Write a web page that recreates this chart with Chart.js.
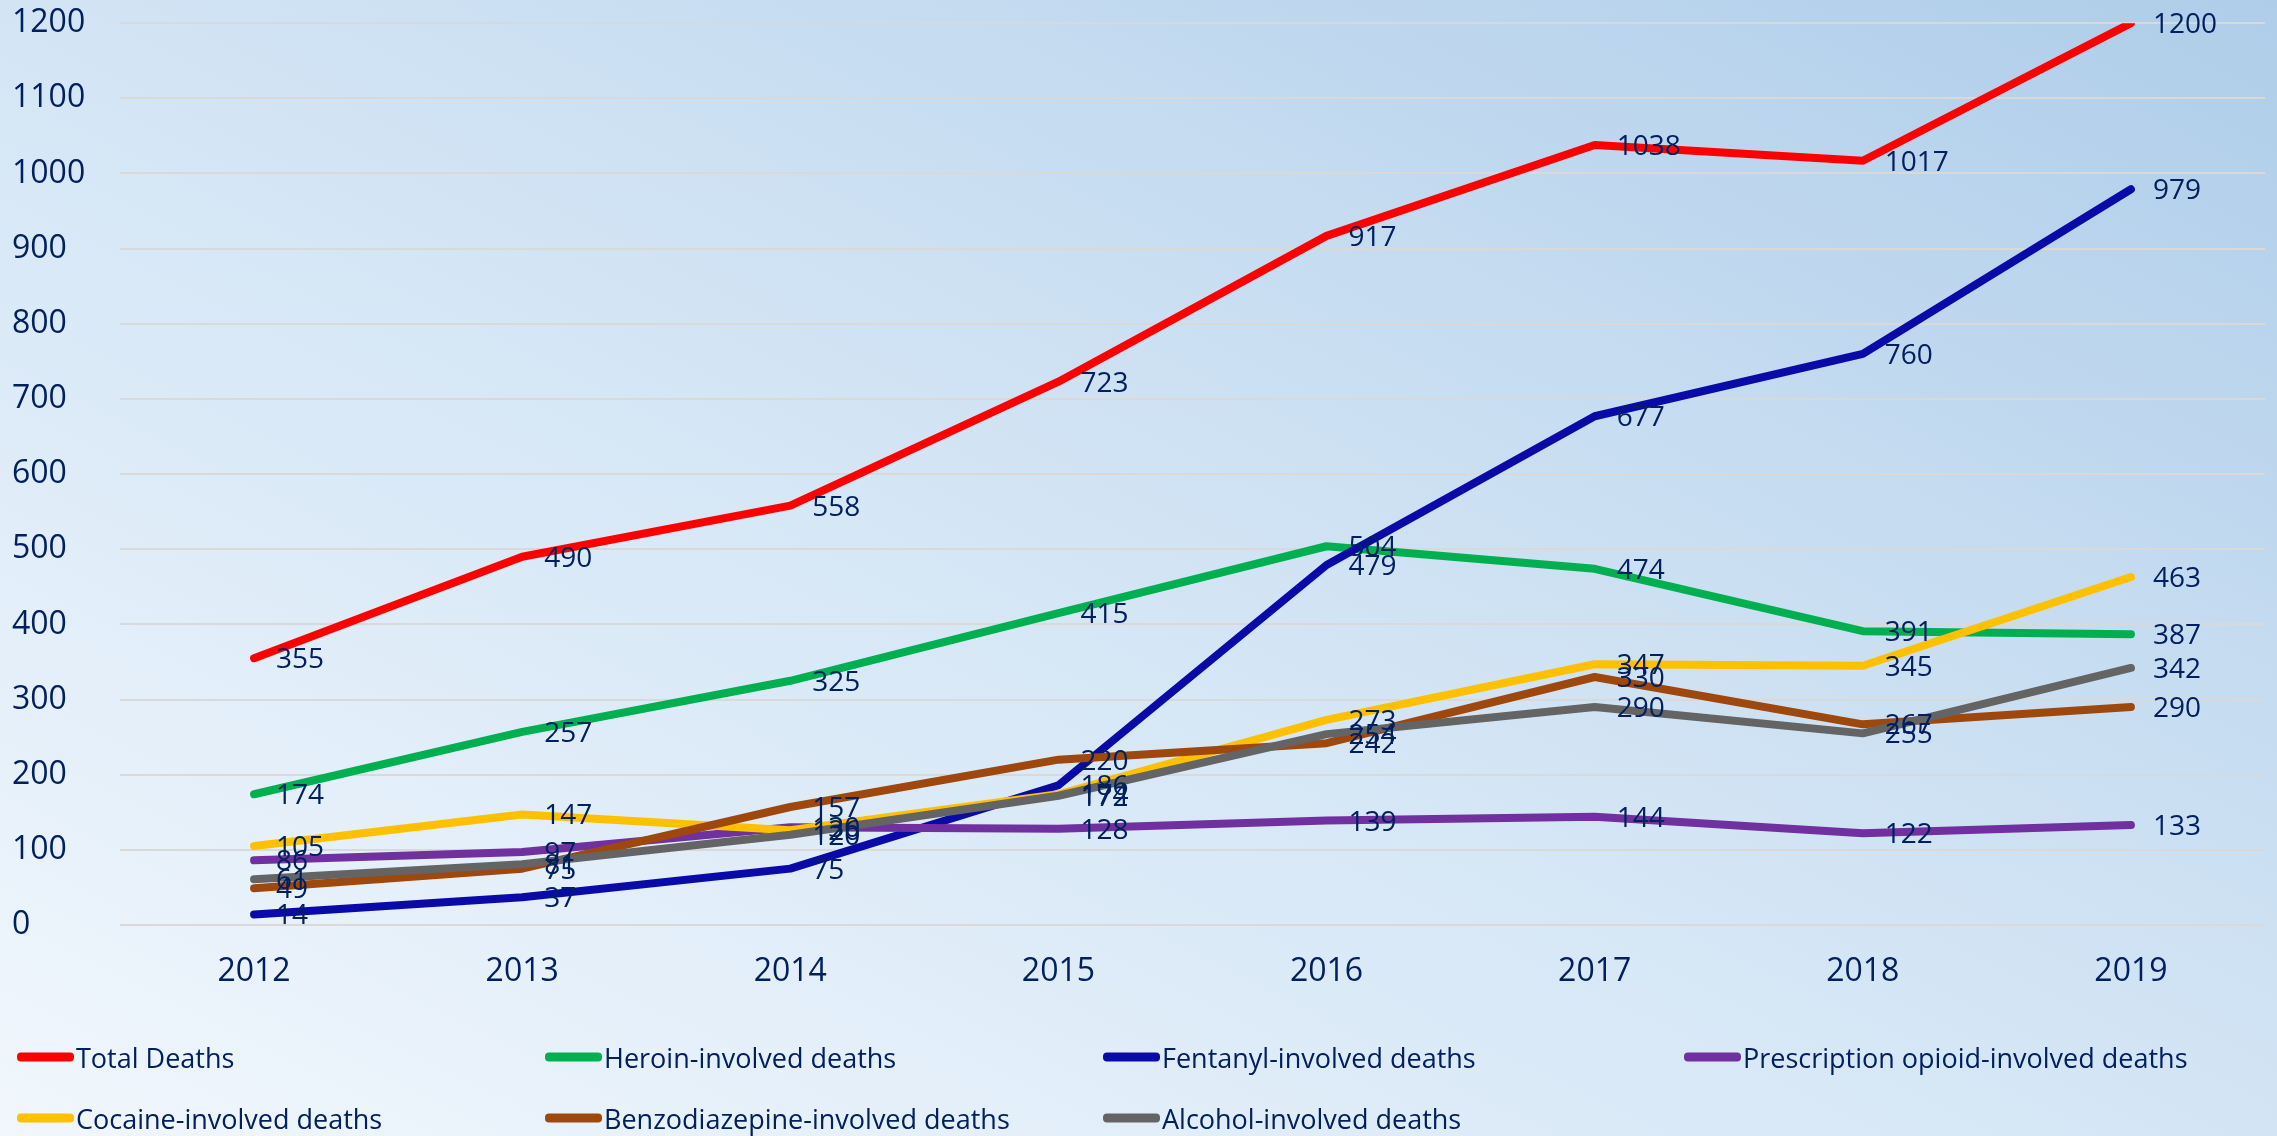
<!DOCTYPE html>
<html>
<head>
<meta charset="utf-8">
<script src="https://cdn.jsdelivr.net/npm/chart.js@4"></script>
<style>
  html, body { margin: 0; padding: 0; }
  body {
    width: 2277px; height: 1136px; overflow: hidden; position: relative;
    background: linear-gradient(to top right, #f1f7fd 0%, #d3e5f5 50%, #afcde9 100%);
    font-family: "Open Sans", "Noto Sans", sans-serif;
  }
  #chart { position: absolute; left: 0; top: -10px; }
  .legend { position: absolute; left: 0; top: 0; width: 2277px; height: 1136px; pointer-events: none; }
  .item { position: absolute; display: flex; align-items: center; color: #002060; font-size: 27px; white-space: nowrap; transform: translateY(-50%); }
  .item span.swatch { display: inline-block; width: 57px; height: 9px; border-radius: 4px; margin-right: 2px; }
</style>
</head>
<body>
<canvas id="chart" width="2277" height="1136"></canvas>
<div class="legend" id="legend"></div>
<script>
const years = ['2012', '2013', '2014', '2015', '2016', '2017', '2018', '2019'];

const totalDeaths        = [355, 490, 558, 723, 917, 1038, 1017, 1200];
const heroinDeaths       = [174, 257, 325, 415, 504, 474, 391, 387];
const fentanylDeaths     = [14, 37, 75, 186, 479, 677, 760, 979];
const prescriptionDeaths = [86, 97, 130, 128, 139, 144, 122, 133];
const cocaineDeaths      = [105, 147, 126, 174, 273, 347, 345, 463];
const benzoDeaths        = [49, 75, 157, 220, 242, 330, 267, 290];
const alcoholDeaths      = [61, 81, 120, 172, 254, 290, 255, 342];

const seriesNames = [
    'Total Deaths', 'Heroin-involved deaths', 'Fentanyl-involved deaths',
    'Prescription opioid-involved deaths', 'Cocaine-involved deaths',
    'Benzodiazepine-involved deaths', 'Alcohol-involved deaths'
];
const seriesData = [totalDeaths, heroinDeaths, fentanylDeaths, prescriptionDeaths,
                    cocaineDeaths, benzoDeaths, alcoholDeaths];
const seriesColors = ['#ff0000', '#00b050', '#0a0aa8', '#7030a0', '#ffc000', '#9e480e', '#646464'];

const yTicks = [0, 100, 200, 300, 400, 500, 600, 700, 800, 900, 1000, 1100, 1200];

const textColor = '#002060';

// value labels drawn to the right of each point, later series on top
const pointLabels = {
    id: 'pointLabels',
    afterDatasetsDraw(chart) {
        const ctx = chart.ctx;
        ctx.save();
        ctx.font = '28px "Open Sans", "Noto Sans", sans-serif';
        ctx.fillStyle = textColor;
        ctx.textAlign = 'left';
        ctx.textBaseline = 'middle';
        chart.data.datasets.forEach((ds, i) => {
            const meta = chart.getDatasetMeta(i);
            meta.data.forEach((pt, j) => {
                ctx.fillText(String(ds.data[j]), pt.x + 22, pt.y + 2);
            });
        });
        ctx.restore();
    }
};

const ctx = document.getElementById('chart').getContext('2d');
const chart = new Chart(ctx, {
    type: 'line',
    data: {
        labels: years,
        datasets: seriesData.map((d, i) => ({
            label: seriesNames[i],
            data: d,
            borderColor: seriesColors[i],
            backgroundColor: seriesColors[i],
            borderWidth: 8,
            borderCapStyle: 'round',
            borderJoinStyle: 'round',
            pointRadius: 0,
            tension: 0,
            order: seriesData.length - i
        }))
    },
    options: {
        responsive: false,
        animation: false,
        layout: { padding: { left: 12, right: 12, top: 2, bottom: 111 } },
        plugins: {
            legend: { display: false },
            tooltip: { enabled: false }
        },
        scales: {
            x: {
                offset: true,
                grid: { display: false },
                border: { display: false },
                ticks: {
                    color: textColor,
                    font: { size: 32, family: '"Open Sans", "Noto Sans", sans-serif' },
                    padding: 20
                },
                afterFit(scale) { scale.height = 90; }
            },
            y: {
                min: 0,
                max: 1200,
                afterBuildTicks(scale) { scale.ticks = yTicks.map(v => ({ value: v })); },
                grid: { color: '#d9d9d9', lineWidth: 2, drawTicks: false },
                border: { display: false },
                ticks: {
                    color: textColor,
                    font: { size: 32, family: '"Open Sans", "Noto Sans", sans-serif' },
                    crossAlign: 'far',
                    padding: 14,
                    callback: v => String(v)
                },
                afterFit(scale) { scale.width = 108; }
            }
        }
    },
    plugins: [pointLabels]
});

// legend laid out in a 4-column grid under the plot
const legendCols = [17, 545, 1103, 1684];
const legendRows = [1057, 1118];
const legend = document.getElementById('legend');
seriesNames.forEach((name, i) => {
    const el = document.createElement('div');
    el.className = 'item';
    el.style.left = legendCols[i % 4] + 'px';
    el.style.top = legendRows[Math.floor(i / 4)] + 'px';
    el.innerHTML = '<span class="swatch" style="background:' + seriesColors[i] + '"></span>' + name;
    legend.appendChild(el);
});
</script>
</body>
</html>
